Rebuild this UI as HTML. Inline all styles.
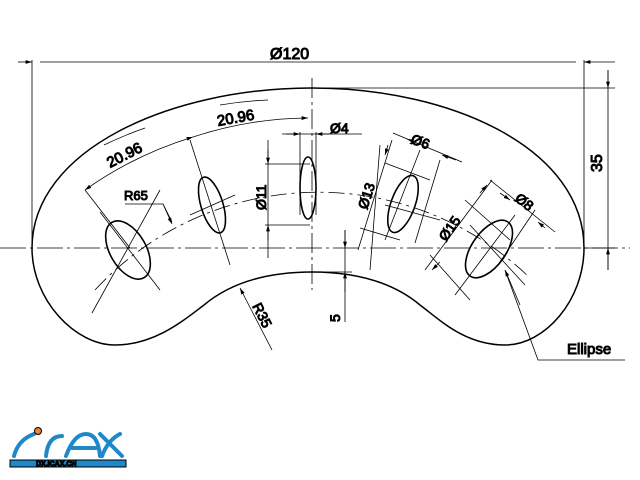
<!DOCTYPE html>
<html><head><meta charset="utf-8"><style>
html,body{margin:0;padding:0;background:#fff;}
svg{display:block;}
text{font-family:"Liberation Sans",sans-serif;fill:#000;}
</style></head><body>
<svg width="640" height="480" viewBox="0 0 640 480" xmlns="http://www.w3.org/2000/svg">
<defs>
<marker id="a" viewBox="0 0 10 6" refX="10" refY="3" markerWidth="8" markerHeight="5" orient="auto-start-reverse"><path d="M0,0L10,3L0,6z" fill="#000"/></marker>
</defs>
<g fill="none" stroke="#000">
<path stroke-width="1.5" d="M32,248 C32,150 170,88 312,88 C454,88 584,150 584,248 C584,300 545,345 505,345 C465,345 440,320 420,305 C390,280 350,272 312,272 C274,272 234,280 204,305 C184,320 155,345 115,345 C75,345 32,300 32,248 Z"/>
<g stroke-width="1.6">
<ellipse cx="128" cy="250" rx="18" ry="32" transform="rotate(-30 128 250)"/>
<ellipse cx="212" cy="205" rx="11" ry="29" transform="rotate(-17 212 205)"/>
<ellipse cx="308" cy="188" rx="8" ry="31"/>
<ellipse cx="403" cy="204" rx="12" ry="30" transform="rotate(20 403 204)"/>
<ellipse cx="489" cy="249" rx="17" ry="33" transform="rotate(35 489 249)"/>
</g>
<g stroke-width="0.8">
<path d="M0,248H630" stroke-dasharray="26,4,3,4"/>
<path d="M312,78V290" stroke-dasharray="20,4,3,4"/>
<path d="M95,290 A304,304 0 0 1 530,278" stroke-dasharray="16,5,3,5"/>
<path d="M92,313L160,190 M100,212L160,290"/>
<path d="M190,140L230,265 M190,215L235,195"/>
<path d="M380,145L370,270 M385,205L440,220"/>
<path d="M455,295L515,215 M470,225L525,285"/>
<path d="M32,60V248 M584,60V248"/>
<path d="M40,62H576"/>
<path d="M18,62H32" marker-end="url(#a)"/>
<path d="M615,62H584" marker-end="url(#a)"/>
<path d="M312,88H615 M584,248H615 M608,70V270"/>
<path d="M608,70V88" marker-end="url(#a)"/>
<path d="M608,270V248" marker-end="url(#a)"/>
<path d="M85,190 A375,375 0 0 1 193,137" marker-start="url(#a)" marker-end="url(#a)"/>
<path d="M193,137 A375,375 0 0 1 308,118" marker-end="url(#a)"/>
<path d="M85,190L130,248"/>
<path d="M104,145 A380,380 0 0 1 145,128 M220,105 A380,380 0 0 1 268,100"/>
<path d="M300,132V215 M316,132V215 M282,134H362"/>
<path d="M286,134H300" marker-end="url(#a)"/>
<path d="M330,134H316" marker-end="url(#a)"/>
<path d="M265,164H310 M265,225H310 M268,140V258"/>
<path d="M268,150V164" marker-end="url(#a)"/>
<path d="M268,240V225" marker-end="url(#a)"/>
<path d="M358,250L392,140 M385,163L430,180 M360,228L400,240 M393,133L462,162 M440,160L415,243 M420,150L385,240"/>
<path d="M388,145L385,155" marker-end="url(#a)"/>
<path d="M415,142L407,139" marker-end="url(#a)"/>
<path d="M456,160L442,155" marker-end="url(#a)"/>
<path d="M425,270L492,180 M430,255L470,300 M490,180L555,232 M465,200L510,240 M535,210L500,262"/>
<path d="M440,262L432,270" marker-end="url(#a)"/>
<path d="M480,193L487,185" marker-end="url(#a)"/>
<path d="M500,193L510,200" marker-end="url(#a)"/>
<path d="M545,228L538,222" marker-end="url(#a)"/>
<path d="M312,272H352 M345,230V322"/>
<path d="M345,230V248" marker-end="url(#a)"/>
<path d="M345,292V272" marker-end="url(#a)"/>
<path d="M125,204H163L172,222"/>
<path d="M163,204L172,224" marker-end="url(#a)"/>
<path d="M272,350L240,288" marker-end="url(#a)"/>
<path d="M625,360H538L505,270" />
<path d="M520,305L505,270" marker-end="url(#a)"/>
</g>
<g font-size="15">
<text x="270" y="59" font-size="16">Ø120</text>
<text x="330" y="133" font-size="14">Ø4</text>
<text x="124" y="200" font-size="13">R65</text>
<text x="0" y="0" transform="translate(602,172) rotate(-90)" font-size="16">35</text>
<text x="0" y="0" transform="translate(110,168) rotate(-27)" font-size="15">20.96</text>
<text x="0" y="0" transform="translate(218,126) rotate(-10)" font-size="15">20.96</text>
<text x="0" y="0" transform="translate(266,210) rotate(-90)" font-size="14">Ø11</text>
<text x="0" y="0" transform="translate(367,210) rotate(-72)" font-size="14">Ø13</text>
<text x="0" y="0" transform="translate(410,143) rotate(20)" font-size="14">Ø6</text>
<text x="0" y="0" transform="translate(446,242) rotate(-55)" font-size="14">Ø15</text>
<text x="0" y="0" transform="translate(514,200) rotate(38)" font-size="14">Ø8</text>
<text x="0" y="0" transform="translate(340,322) rotate(-90)" font-size="14">5</text>
<text x="0" y="0" transform="translate(252,306) rotate(63)" font-size="14">R35</text>
<text x="567" y="354" font-size="15">Ellipse</text>
</g>
<g fill="none" stroke="#1e88c8" stroke-width="4" stroke-linecap="round">
<path d="M14,456 Q18,440 34,434"/>
<path d="M62,436 Q48,436 46,456"/>
<path d="M66,456 Q74,434 86,434 Q98,434 100,456 M72,448H96"/>
<path d="M100,434 L122,456 M120,434 Q108,440 102,456"/>
</g>
<circle cx="38" cy="431" r="3.5" fill="#f08030"/>
<rect x="10" y="460" width="116" height="7" fill="#1e88c8"/>
<text x="36" y="466" font-size="7" font-weight="bold" style="fill:#fff">DX.ICAX.CN</text>
</svg>
</body></html>
